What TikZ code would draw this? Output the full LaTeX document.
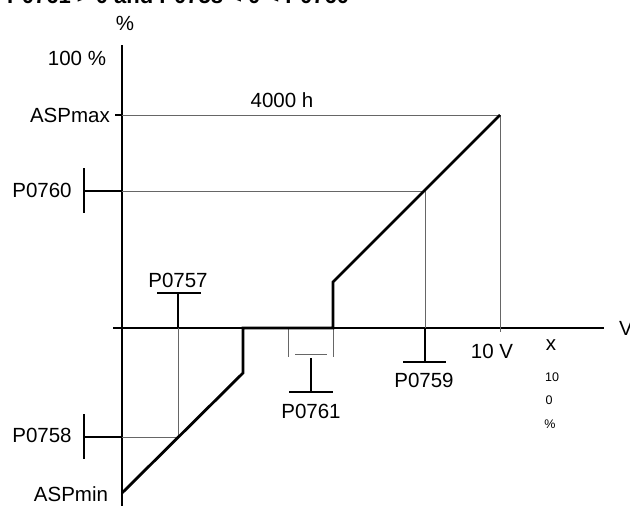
\documentclass[tikz,border=0pt]{standalone}
\usepackage{fontspec}
\setmainfont{Liberation Sans}
\begin{document}
\begin{tikzpicture}[x=1pt,y=-1pt,
  lbl/.style={inner sep=0pt,font=\fontsize{20.5}{24}\selectfont},
  small/.style={inner sep=0pt,font=\fontsize{12.5}{15}\selectfont},
  axis/.style={line width=1.2pt,black},
  thin/.style={line width=0.8pt,black!60},
  tickl/.style={line width=1.5pt,black},
  curve/.style={line width=2.8pt,black,line join=miter}]
\clip (0,0) rectangle (630,506);
\fill[white] (0,0) rectangle (630,506);
% title (cut at top)
\node[inner sep=0pt,anchor=base west,font=\fontsize{22}{26}\selectfont\bfseries] (title) at (7,3.5) {P0761 > 0 and P0758 < 0 < P0760};
% axes
\draw[axis] (122,45) -- (122,506);
\draw[axis] (113,328) -- (604,328);
\node[lbl] (pct) at (125,23) {\%};
\node[lbl] (hundred) at (77,58) {100 \%};
\node[lbl] (V) at (626,328) {V};
% ASPmax
\draw[tickl] (115,115) -- (122,115);
\draw[thin] (122,115) -- (500,115);
\draw[thin] (500,115) -- (500,332);
\node[lbl,anchor=east] (aspmax) at (110,115) {ASPmax};
\node[lbl] (h4000) at (282,100) {4000 h};
\node[lbl] (tenV) at (492,351) {10 V};
% P0760
\draw[tickl] (84,168) -- (84,213);
\draw[tickl] (84,191) -- (122,191);
\draw[thin] (122,191) -- (425,191);
\draw[thin] (425,191) -- (425,328);
\node[lbl] (p0760) at (42,190) {P0760};
% P0759
\draw[tickl] (425,328) -- (425,362);
\draw[tickl] (403,362) -- (446,362);
\node[lbl] (p0759) at (424,380) {P0759};
% P0757
\draw[tickl] (157,293) -- (201,293);
\draw[tickl] (178,293) -- (178,328);
\draw[thin] (178,328) -- (178,437);
\node[lbl] (p0757) at (178,280) {P0757};
% P0758
\draw[tickl] (84,414) -- (84,459);
\draw[tickl] (84,437) -- (122,437);
\draw[thin] (122,437) -- (179,437);
\node[lbl] (p0758) at (42,435) {P0758};
\node[lbl] (aspmin) at (71,494) {ASPmin};
% P0761
\draw[thin] (288,328) -- (288,357);
\draw[thin] (333,328) -- (333,357);
\draw[thin] (295,354) -- (327,354);
\draw[tickl] (311,358) -- (311,392);
\draw[tickl] (289,392) -- (333,392);
\node[lbl] (p0761) at (311,411) {P0761};
% curve
\draw[curve] (122,493) -- (243,373) -- (243,328) -- (333,328) -- (333,282) -- (500,115);
% right annotations
\node[lbl] (xx) at (551,345) {x};
\node[small] (s10) at (552,377) {10};
\node[small] (s0) at (549,400) {0};
\node[small] (spct) at (550,424) {\%};
\end{tikzpicture}
\end{document}
